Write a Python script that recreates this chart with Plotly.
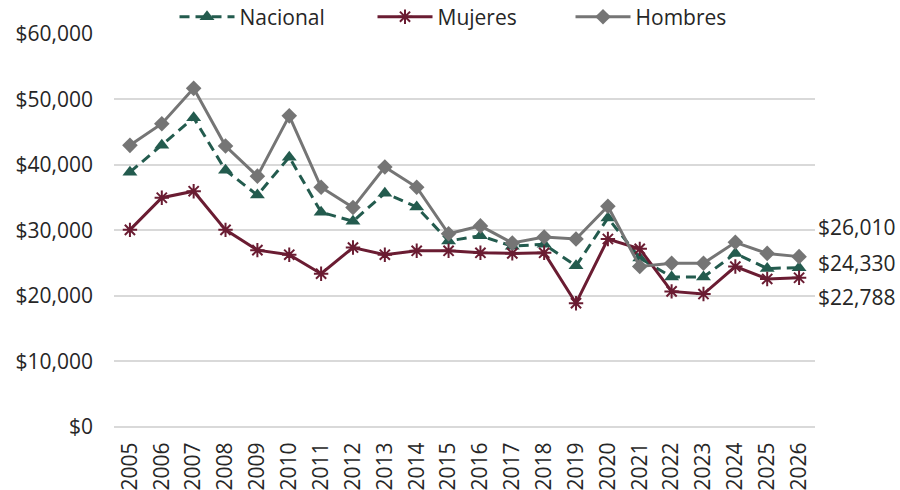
import plotly.graph_objects as go

years = list(range(2005, 2027))
year_labels = [str(y) for y in years]
nacional = [38900, 43000, 47200, 39200, 35400, 41200, 32800, 31400, 35700, 33600,
            28400, 29200, 27600, 27900, 24600, 31900, 25800, 22900, 22900, 26500,
            24200, 24330]
mujeres = [30100, 35000, 36000, 30100, 27000, 26300, 23400, 27400, 26300, 26900,
           26900, 26600, 26500, 26600, 18900, 28700, 27200, 20700, 20300, 24500,
           22600, 22788]
hombres = [43000, 46300, 51700, 42900, 38300, 47500, 36600, 33500, 39700, 36600,
           29500, 30700, 28100, 29000, 28700, 33700, 24500, 25000, 25000, 28200,
           26500, 26010]
yticks = [0, 10000, 20000, 30000, 40000, 50000, 60000]
ytick_text = ["$0", "$10,000", "$20,000", "$30,000", "$40,000", "$50,000", "$60,000"]

C_NAC = "#235B4E"
C_MUJ = "#6A1C32"
C_HOM = "#757575"
TXT = "#262626"
FONT = "Open Sans"
FS = 21

fig = go.Figure()
fig.add_trace(go.Scatter(
    x=years, y=nacional, name="Nacional", mode="lines+markers",
    line=dict(color=C_NAC, width=3, dash="10px,6px"),
    marker=dict(symbol="triangle-up", size=13, color=C_NAC),
))
fig.add_trace(go.Scatter(
    x=years, y=mujeres, name="Mujeres", mode="lines+markers",
    line=dict(color=C_MUJ, width=3),
    marker=dict(symbol="asterisk-open", size=12, color=C_MUJ,
                line=dict(color=C_MUJ, width=2)),
))
fig.add_trace(go.Scatter(
    x=years, y=hombres, name="Hombres", mode="lines+markers",
    line=dict(color=C_HOM, width=3),
    marker=dict(symbol="diamond", size=12, color=C_HOM),
))

last = years[-1]
for val, shift in [(hombres[-1], 30), (nacional[-1], 5), (mujeres[-1], -19)]:
    fig.add_annotation(
        x=last, y=val, xref="x", yref="y", text=f"${val:,.0f}",
        showarrow=False, xanchor="left", yanchor="middle",
        xshift=17, yshift=shift,
        font=dict(family=FONT, size=FS, color=TXT),
    )

fig.update_layout(
    width=900, height=490,
    margin=dict(l=114, r=85, t=0, b=63, autoexpand=False),
    paper_bgcolor="white", plot_bgcolor="white",
    font=dict(family=FONT, size=FS, color=TXT),
    showlegend=True,
    legend=dict(orientation="h", x=0.51, xanchor="center", y=0.960, yanchor="middle",
                font=dict(family=FONT, size=FS, color=TXT),
                itemwidth=55, entrywidth=128, bgcolor="rgba(0,0,0,0)"),
)
fig.update_xaxes(
    range=[2004.5, 2026.5], tickvals=years, ticktext=year_labels,
    tickangle=-90, showgrid=False, zeroline=False, automargin=False,
    showline=False, ticks="outside", ticklen=6, tickcolor="rgba(0,0,0,0)",
    tickfont=dict(family=FONT, size=FS, color=TXT),
)
fig.update_yaxes(
    range=[0, 60000], tickvals=yticks, ticktext=ytick_text,
    domain=[0, 0.9204], automargin=False,
    showgrid=True, gridcolor="#D9D9D9", gridwidth=2,
    zeroline=True, zerolinecolor="#D9D9D9", zerolinewidth=2,
    showline=False, ticks="", ticklabelstandoff=20,
    tickfont=dict(family=FONT, size=FS, color=TXT),
)

fig.write_html(
    "out.html",
    config={"displayModeBar": False},
    post_script="document.body.style.margin='0';document.body.style.overflow='hidden';",
)
